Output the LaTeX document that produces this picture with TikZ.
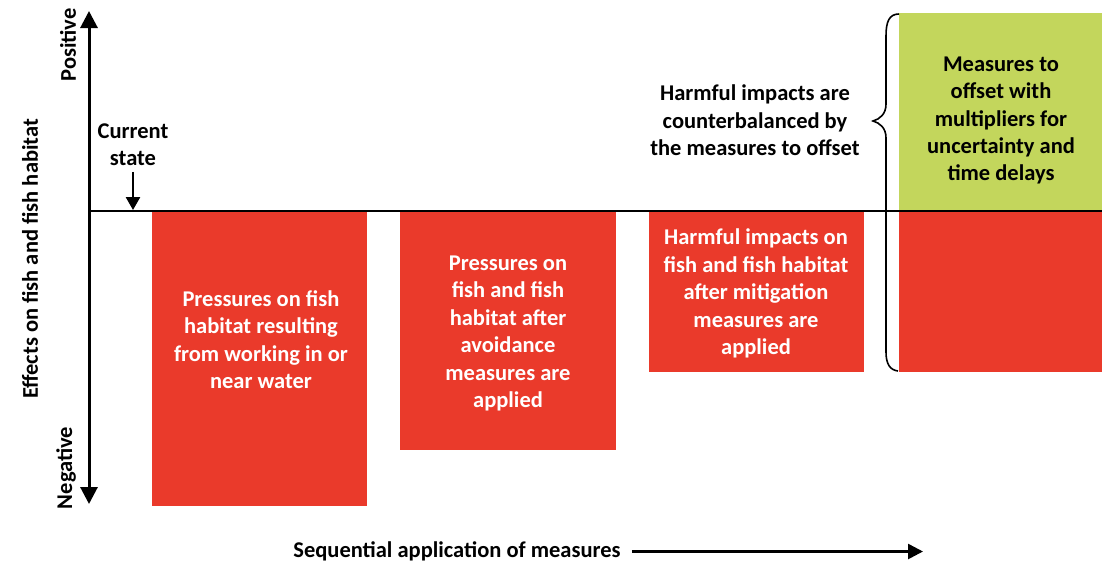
\documentclass[tikz,border=0pt]{standalone}
\usepackage{fontspec}
\setmainfont{Carlito}
\usetikzlibrary{positioning, arrows.meta}
\definecolor{harmred}{RGB}{234, 58, 43}
\definecolor{offsetgreen}{RGB}{195, 214, 92}

\begin{document}
\begin{tikzpicture}[
        x=1pt, y=-1pt,
        txt/.style={font=\fontsize{22.5}{27.4}\selectfont\bfseries, align=center, inner sep=0pt},
        onred/.style={txt, text=white},
        axis/.style={line width=3pt, -{Triangle[length=17pt, width=17pt]}}
    ]
    \useasboundingbox (0, 0) rectangle (1102, 563);

    % Bars below the zero line (harm) and above it (offset)
    \fill[harmred] (152, 212) rectangle (367, 506);
    \fill[harmred] (400, 212) rectangle (616, 450);
    \fill[harmred] (649, 212) rectangle (864, 372);
    \fill[harmred] (899, 212) rectangle (1102, 372);
    \fill[offsetgreen] (899, 13) rectangle (1102, 211);

    % Axes
    \coordinate (origin) at (89, 211);
    \coordinate (ytop) at (89, 11);
    \coordinate (ybot) at (89, 504);
    \coordinate (xend) at (1102, 211);
    \draw[axis] (origin) -- (ytop);
    \draw[axis] (origin) -- (ybot);
    \draw[line width=2.6pt] (origin) -- (xend);

    \node[txt, rotate=90] (effects) at (30, 259) {Effects on fish and fish habitat};
    \node[txt, rotate=90] (pos) at (68, 45) {Positive};
    \node[txt, rotate=90] (neg) at (66, 468) {Negative};

    % Current state marker
    \node[txt] (current) at (133, 144.5) {Current\\state};
    \coordinate (now) at (133, 210);
    \draw[line width=2.6pt, -{Triangle[length=13pt, width=14pt]}] (current.south) ++(0, 6) -- (now);

    % Bar texts
    \node[onred] (work) at (261, 339.5) {Pressures on fish\\habitat resulting\\from working in or\\near water};
    \node[onred] (avoid) at (508, 333.5) {Pressures on\\fish and fish\\habitat after\\avoidance\\measures are\\applied};
    \node[onred] (mitig) at (756, 293.5) {Harmful impacts on\\fish and fish habitat\\after mitigation\\measures are\\applied};
    \node[txt] (offset) at (1001, 120.5) {Measures to\\offset with\\multipliers for\\uncertainty and\\time delays};

    % Brace joining offset and residual impacts
    \node[txt] (balance) at (755, 120.5) {Harmful impacts are\\counterbalanced by\\the measures to offset};
    \draw[line width=1.6pt] (899, 14) .. controls (889, 14) and (886, 22) .. (886, 36)
        -- (886, 104) .. controls (886, 114) and (880, 119) .. (873, 121)
        .. controls (880, 123) and (886, 128) .. (886, 138)
        -- (886, 352) .. controls (886, 364) and (890, 370) .. (898, 371);

    % Sequence arrow
    \node[txt] (seq) at (457, 551.5) {Sequential application of measures};
    \coordinate (seqend) at (923, 551.5);
    \draw[line width=2.6pt, -{Triangle[length=15pt, width=15pt]}] ([xshift=11pt]seq.east) -- (seqend);

\end{tikzpicture}
\end{document}
